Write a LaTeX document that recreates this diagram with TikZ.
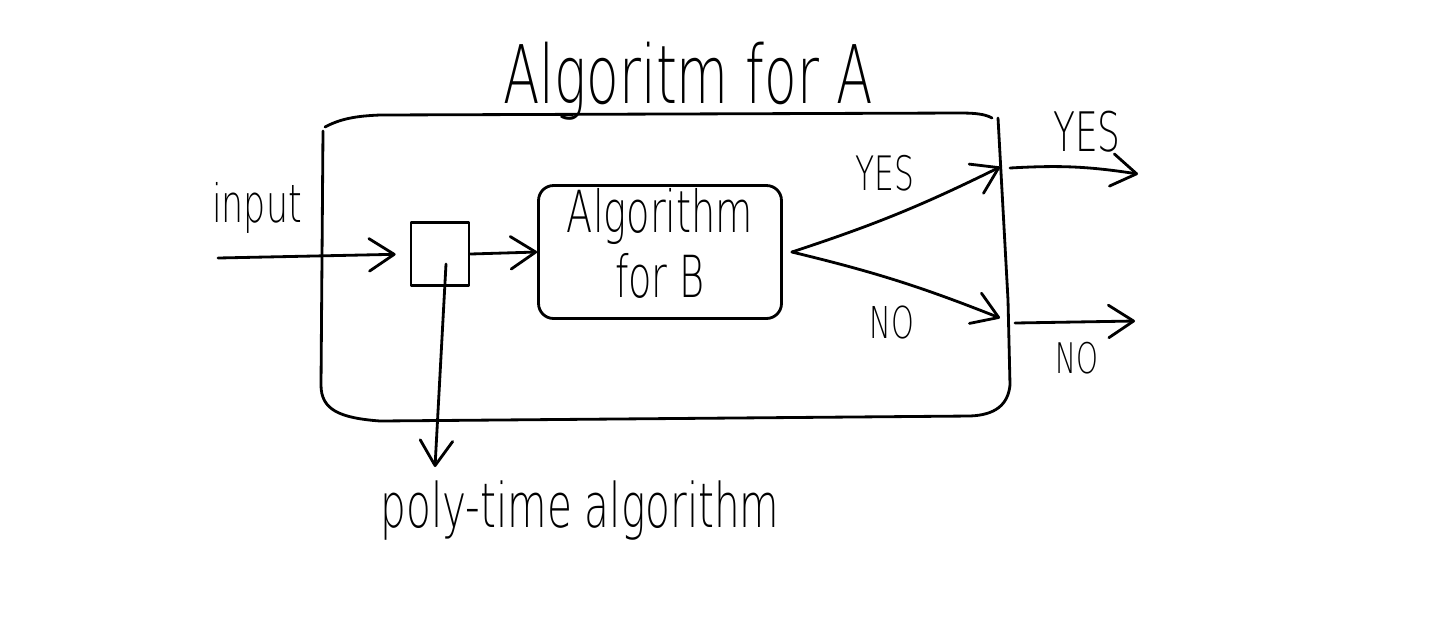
\documentclass[tikz,border=0pt]{standalone}
\usepackage{fontspec}
\setmainfont{DejaVu Sans}[UprightFont=* ExtraLight]
\usetikzlibrary{arrows.meta}

\begin{document}
\begin{tikzpicture}
[
x=0.02cm, y=-0.02cm,
line width=1.6pt, line cap=round, line join=round,
Frame/.style={draw=black, line width=1.6pt},
HandArrow/.style={-{Straight Barb[length=5mm,width=6.5mm,round]}, draw=black},
SmallBox/.style={rectangle, draw=black, minimum width=1.16cm, minimum height=1.26cm, inner sep=0pt},
AlgBox/.style={rectangle, rounded corners=0.3cm, draw=black, minimum width=4.86cm, minimum height=2.66cm, inner sep=0pt},
Hand/.style={font=\fontsize{#1}{#1}\selectfont, xscale=0.66, inner sep=0pt, anchor=base},
]

\useasboundingbox[fill=white] (0,0) rectangle (1432,630);

% title and outer frame
\node[Hand=46pt] (title) at (688,103) {Algoritm for A};

\draw[Frame] (325,127) .. controls (340,119) and (355,116) .. (380,115) -- (960,113)
     .. controls (975,113) and (985,114) .. (992,118);
\draw[Frame] (323,131) -- (321,385) .. controls (321,410) and (340,418) .. (380,421)
     -- (970,416) .. controls (995,415) and (1008,405) .. (1010,385) -- (1008,300) -- (998,118);

% inner part
\node[SmallBox] (reduce) at (440,254) {};
\node[AlgBox] (algB) at (660,252) {\fontsize{33pt}{37pt}\selectfont
    \scalebox{0.66}[1]{\begin{tabular}{c} Algorithm \\ for B \end{tabular}}};

\coordinate (inp) at (218,258);
\coordinate (poly) at (435,467);
\coordinate (yesin) at (1000,167);
\coordinate (noin) at (1000,318);
\coordinate (yesfrom) at (1010,168);
\coordinate (yesto) at (1138,174);
\coordinate (nofrom) at (1015,323);
\coordinate (noto) at (1135,321);

\node[Hand=30pt] (input) at (257,222) {input};

\draw[HandArrow, shorten >=0.28cm] (inp) -- (reduce.west);
\draw[HandArrow] (reduce.east) -- (algB.west);
\draw[HandArrow] ([shift={(6,10)}]reduce.center) -- (poly);

\draw[HandArrow] ([shift={(9,0)}]algB.east) to[bend right=4] (yesin);
\draw[HandArrow] ([shift={(9,0)}]algB.east) to[bend left=4] (noin);
\node[Hand=27pt] (yes1) at (885,190) {YES};
\node[Hand=25pt] (no1) at (892,338) {NO};

\draw[HandArrow] (yesfrom) to[bend left=6] (yesto);
\draw[HandArrow] (nofrom) -- (noto);
\node[Hand=31pt] (yes2) at (1087,151) {YES};
\node[Hand=24pt] (no2) at (1077,373) {NO};

\node[Hand=35pt] (polytime) at (580,527) {poly-time algorithm};

\end{tikzpicture}
\end{document}
